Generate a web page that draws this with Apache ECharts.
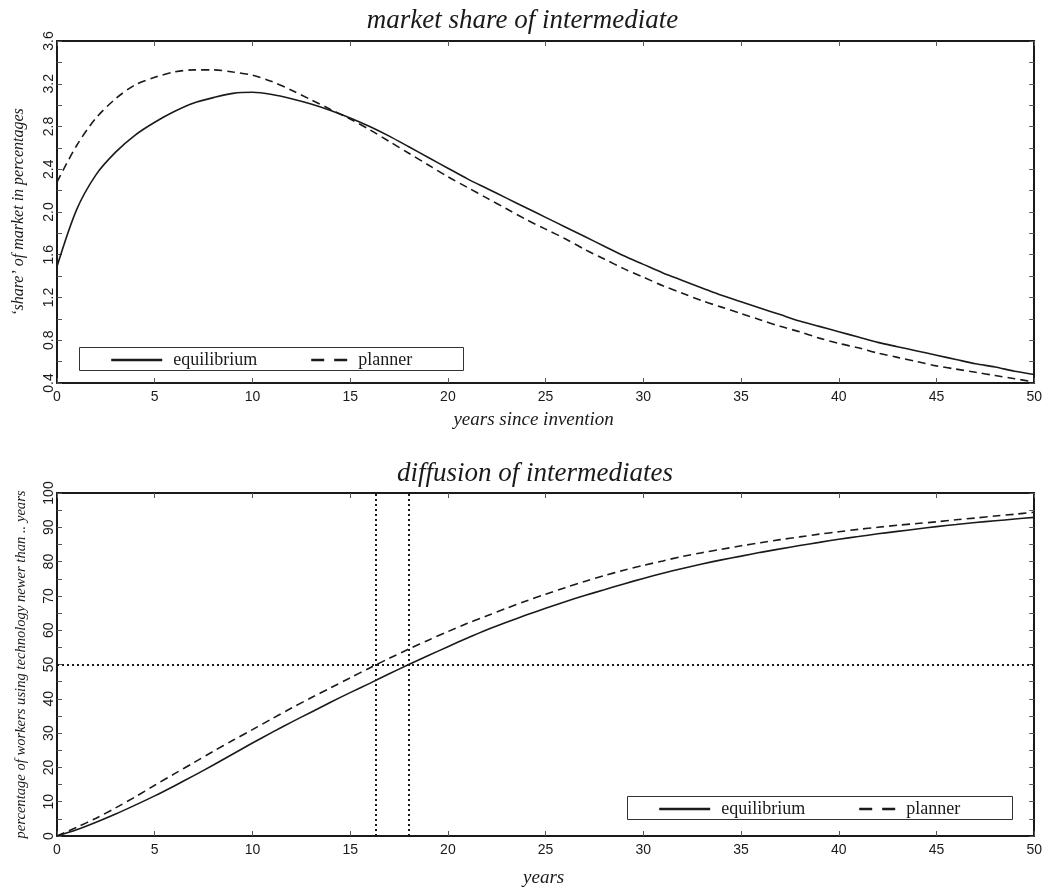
<!DOCTYPE html>
<html>
<head>
<meta charset="utf-8">
<script src="https://cdn.jsdelivr.net/npm/echarts@6/dist/echarts.min.js"></script>
<style>
  html, body { margin: 0; padding: 0; background: #fff; }
  #chart { width: 1045px; height: 890px; }
</style>
</head>
<body>
<div id="chart"></div>
<script>
// years since invention (same grid for both panels)
const years = [0, 1, 2, 3, 4, 5, 6, 7, 8, 9, 10, 11, 12, 13, 14, 15, 16, 17, 18, 19, 20,
  21, 22, 23, 24, 25, 26, 27, 28, 29, 30, 31, 32, 33, 34, 35, 36, 37, 38, 39, 40,
  41, 42, 43, 44, 45, 46, 47, 48, 49, 50];

// market share of intermediate, in percent
const shareEquilibrium = [1.49, 2.02, 2.35, 2.56, 2.72, 2.84, 2.94, 3.02, 3.07, 3.11, 3.12,
  3.10, 3.06, 3.01, 2.95, 2.88, 2.80, 2.71, 2.61, 2.51, 2.41,
  2.31, 2.22, 2.13, 2.04, 1.95, 1.86, 1.77, 1.68, 1.59, 1.51,
  1.43, 1.36, 1.29, 1.22, 1.16, 1.10, 1.04, 0.98, 0.93, 0.88,
  0.83, 0.78, 0.74, 0.70, 0.66, 0.62, 0.58, 0.55, 0.51, 0.48];
const sharePlanner = [2.28, 2.62, 2.88, 3.06, 3.19, 3.26, 3.31, 3.33, 3.33, 3.31, 3.28,
  3.22, 3.14, 3.05, 2.96, 2.87, 2.77, 2.66, 2.55, 2.44, 2.33,
  2.23, 2.13, 2.03, 1.93, 1.84, 1.75, 1.65, 1.56, 1.47, 1.39,
  1.31, 1.24, 1.17, 1.11, 1.05, 0.99, 0.93, 0.88, 0.82, 0.77,
  0.73, 0.68, 0.64, 0.60, 0.56, 0.53, 0.50, 0.47, 0.44, 0.41];

// percentage of workers using technology newer than .. years
const diffusionEquilibrium = [0, 1.8, 4.0, 6.4, 9.0, 11.7, 14.6, 17.6, 20.7, 23.9, 27.1,
  30.2, 33.2, 36.1, 39.0, 41.8, 44.5, 47.3, 50.0, 52.6, 55.2,
  57.7, 60.1, 62.3, 64.4, 66.4, 68.3, 70.1, 71.8, 73.5, 75.1,
  76.6, 78.0, 79.3, 80.5, 81.6, 82.7, 83.7, 84.7, 85.6, 86.5,
  87.3, 88.1, 88.8, 89.5, 90.2, 90.8, 91.4, 91.9, 92.4, 92.9];
const diffusionPlanner = [0, 2.5, 5.2, 8.2, 11.4, 14.8, 18.1, 21.4, 24.7, 27.9, 31.0,
  34.2, 37.3, 40.3, 43.2, 46.1, 49.0, 51.8, 54.5, 57.1, 59.6,
  62.0, 64.2, 66.4, 68.5, 70.5, 72.4, 74.2, 75.9, 77.5, 78.9,
  80.2, 81.5, 82.6, 83.6, 84.6, 85.5, 86.4, 87.2, 88.0, 88.7,
  89.4, 90.0, 90.6, 91.1, 91.6, 92.2, 92.7, 93.3, 93.8, 94.4];

// 50% marks: years at which planner / equilibrium reach half
const halfYears = [16.3, 18.0];
const halfLevel = 50;

const seriesNames = ['equilibrium', 'planner'];

const pair = (xs, ys) => xs.map((x, i) => [x, ys[i]]);

const chart = echarts.init(document.getElementById('chart'), null, { renderer: 'canvas' });

const ink = '#1a1a1a';
const sansFont = 'Liberation Sans';
const serifFont = 'Liberation Serif';

function xAxes(gridIndex, name, nameGap, namePad) {
  return [
    {
      type: 'value', gridIndex: gridIndex, position: 'bottom',
      min: 0, max: 50, interval: 5,
      name: name, nameLocation: 'middle', nameGap: nameGap,
      nameTextStyle: { fontFamily: serifFont, fontStyle: 'italic', fontSize: 19, color: ink, padding: namePad },
      axisLine: { show: true, onZero: false, lineStyle: { color: ink, width: 2 } },
      axisTick: { show: true, inside: true, length: 5, lineStyle: { color: '#555' } },
      axisLabel: { fontFamily: sansFont, fontSize: 14, color: ink, margin: 7 },
      splitLine: { show: false }
    },
    {
      type: 'value', gridIndex: gridIndex, position: 'top',
      min: 0, max: 50, interval: 5,
      axisLine: { show: true, onZero: false, lineStyle: { color: ink, width: 2 } },
      axisTick: { show: true, inside: true, length: 5, lineStyle: { color: '#555' } },
      axisLabel: { show: false },
      splitLine: { show: false }
    }
  ];
}

function yAxes(gridIndex, min, max, interval, name, nameGap, nameSize, fmt) {
  return [
    {
      type: 'value', gridIndex: gridIndex, position: 'left',
      min: min, max: max, interval: interval,
      name: name, nameLocation: 'middle', nameGap: nameGap,
      nameTextStyle: { fontFamily: serifFont, fontStyle: 'italic', fontSize: nameSize, color: ink },
      axisLine: { show: true, onZero: false, lineStyle: { color: ink, width: 2 } },
      axisTick: { show: true, inside: true, length: 5, lineStyle: { color: '#555' } },
      minorTick: { show: true, splitNumber: 2, length: 5, lineStyle: { color: '#555' } },
      axisLabel: { fontFamily: sansFont, fontSize: 14, color: ink, rotate: 90, margin: 1, formatter: fmt },
      splitLine: { show: false }
    },
    {
      type: 'value', gridIndex: gridIndex, position: 'right',
      min: min, max: max, interval: interval,
      axisLine: { show: true, onZero: false, lineStyle: { color: ink, width: 2 } },
      axisTick: { show: true, inside: true, length: 5, lineStyle: { color: '#555' } },
      minorTick: { show: true, splitNumber: 2, length: 5, lineStyle: { color: '#555' } },
      axisLabel: { show: false },
      splitLine: { show: false }
    }
  ];
}

const solidStyle = { color: ink, width: 1.6, type: 'solid' };
const dashStyle = { color: ink, width: 1.6, type: [8, 5] };

function legendItem(name, left, top, width, dash) {
  return {
    data: [name], left: left, top: top, orient: 'horizontal',
    padding: 0, itemWidth: width, itemHeight: 14,
    itemStyle: { opacity: 0 },
    lineStyle: { color: ink, width: 2.4, type: dash },
    textStyle: { fontFamily: serifFont, fontSize: 18, color: ink, padding: [0, 0, 0, 6] },
    selectedMode: false
  };
}

const option = {
  animation: false,
  backgroundColor: '#fff',
  color: [ink, ink],
  title: [
    {
      text: 'market share of intermediate', left: 'center', top: 2,
      textStyle: { fontFamily: serifFont, fontStyle: 'italic', fontWeight: 'normal', fontSize: 27, color: ink }
    },
    {
      text: 'diffusion of intermediates', left: 392, top: 455,
      textStyle: { fontFamily: serifFont, fontStyle: 'italic', fontWeight: 'normal', fontSize: 27, color: ink }
    }
  ],
  grid: [
    { left: 57, right: 8, top: 41, height: 342 },
    { left: 57, right: 8, top: 493, height: 343 }
  ],
  xAxis: [
    ...xAxes(0, 'years since invention', 27, [0, 24, 0, 0]),
    ...xAxes(1, 'years', 32, [0, 4, 0, 0])
  ],
  yAxis: [
    ...yAxes(0, 0.4, 3.6, 0.4, '\u2018share\u2019 of market in percentages', 30, 16, v => v.toFixed(1)),
    ...yAxes(1, 0, 100, 10, 'percentage of workers using technology newer than .. years', 28, 14.6, v => String(v))
  ],
  legend: [
    legendItem(seriesNames[0], 110, 351, 51, 'solid'),
    legendItem(seriesNames[1], 310, 351, 36, [13, 10]),
    legendItem(seriesNames[0], 658, 800, 51, 'solid'),
    legendItem(seriesNames[1], 858, 800, 36, [13, 10])
  ],
  graphic: [
    { type: 'rect', shape: { x: 79.5, y: 347.5, width: 384, height: 23 }, style: { fill: 'none', stroke: '#333', lineWidth: 1 } },
    { type: 'rect', shape: { x: 627.5, y: 796.5, width: 385, height: 23 }, style: { fill: 'none', stroke: '#333', lineWidth: 1 } }
  ],
  series: [
    {
      name: seriesNames[0], type: 'line', xAxisIndex: 0, yAxisIndex: 0,
      data: pair(years, shareEquilibrium), showSymbol: false, symbol: 'none', smooth: 0.3,
      itemStyle: { color: ink }, lineStyle: solidStyle
    },
    {
      name: seriesNames[1], type: 'line', xAxisIndex: 0, yAxisIndex: 0,
      data: pair(years, sharePlanner), showSymbol: false, symbol: 'none', smooth: 0.3,
      itemStyle: { color: ink }, lineStyle: dashStyle
    },
    {
      name: seriesNames[0], type: 'line', xAxisIndex: 2, yAxisIndex: 2,
      data: pair(years, diffusionEquilibrium), showSymbol: false, symbol: 'none', smooth: 0.3,
      itemStyle: { color: ink }, lineStyle: solidStyle,
      markLine: {
        silent: true, symbol: 'none', label: { show: false },
        lineStyle: { color: ink, width: 2, type: [2, 3] },
        data: [
          { xAxis: halfYears[0] },
          { xAxis: halfYears[1] },
          { yAxis: halfLevel }
        ]
      }
    },
    {
      name: seriesNames[1], type: 'line', xAxisIndex: 2, yAxisIndex: 2,
      data: pair(years, diffusionPlanner), showSymbol: false, symbol: 'none', smooth: 0.3,
      itemStyle: { color: ink }, lineStyle: dashStyle
    }
  ]
};

chart.setOption(option);
</script>
</body>
</html>
